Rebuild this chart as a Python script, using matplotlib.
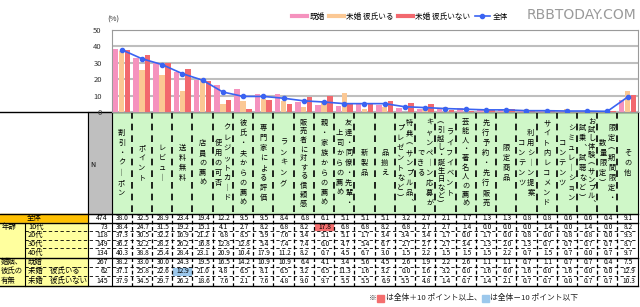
import matplotlib

matplotlib.use("Agg")

import matplotlib.pyplot as plt
import numpy as np
from matplotlib.lines import Line2D
from matplotlib.patches import Rectangle

plt.rcParams["font.family"] = ["Noto Sans CJK JP", "DejaVu Sans"]

# ---- data -------------------------------------------------------------
# each header: text columns separated by "\n", rightmost column first
categories = [
    "割引・クーポン", "ポイント", "レビュー", "送料無料", "店員の薦め",
    "クレジットカード\n使用の可否", "彼氏・夫からの薦め", "専門家による評価",
    "ランキング", "販売者に対する信頼感", "親・家族からの薦め",
    "友達・同僚・先輩・\n上司からの薦め", "新製品", "品揃え",
    "特典（サンプル品、\nプレゼントなど）", "キャンペーン応募が\nできる",
    "ライフイベント\n（引越し・誕生日など）", "芸能人・著名人の薦め",
    "先行予約・先行販売", "限定商品", "利用シーン提案\nコンテンツ",
    "サイト内レコメンド", "シミュレーション\nコンテンツ",
    "お試し体験（サンプル、\n試乗、試聴など）", "限定（期間限定・\n数量限定）", "その他",
]

overall = [38.0, 32.5, 28.9, 23.4, 19.4, 12.2, 9.5, 9.5, 8.4, 6.8, 6.1, 5.1, 5.1,
           5.1, 3.2, 2.7, 2.1, 1.7, 1.3, 1.3, 0.8, 0.8, 0.6, 0.6, 0.4, 9.1]
teens = [38.4, 24.7, 31.5, 19.2, 15.1, 4.1, 2.7, 8.2, 6.8, 8.2, 17.8, 6.8, 6.8,
         8.2, 6.8, 2.7, 2.7, 1.4, 0.0, 0.0, 0.0, 1.4, 0.0, 1.4, 0.0, 8.2]
twenties = [37.3, 30.5, 32.2, 16.9, 21.2, 6.8, 8.5, 5.9, 7.6, 3.4, 5.1, 5.1, 1.7,
            3.4, 3.4, 3.4, 1.7, 0.0, 1.7, 0.0, 0.8, 0.0, 0.8, 0.8, 0.0, 9.3]
thirties = [36.2, 32.2, 28.2, 26.2, 16.8, 12.8, 12.8, 5.4, 7.4, 7.4, 6.0, 4.7, 5.4,
            6.7, 2.7, 2.7, 2.7, 3.4, 1.3, 2.0, 1.3, 0.7, 0.7, 0.7, 0.7, 8.7]
forties = [40.3, 38.8, 25.4, 28.4, 23.1, 20.9, 10.4, 17.9, 11.2, 8.2, 0.7, 4.5, 6.7,
           3.0, 1.5, 2.2, 1.5, 1.5, 1.5, 2.2, 0.7, 1.5, 0.7, 0.0, 0.7, 9.7]
married = [38.2, 33.0, 30.0, 24.3, 19.5, 16.5, 14.2, 10.9, 10.9, 6.4, 4.1, 3.4, 5.6,
           4.5, 2.6, 1.9, 2.2, 2.6, 1.1, 1.1, 0.7, 1.1, 0.7, 0.7, 0.4, 7.5]
single_bf = [37.1, 25.8, 22.6, 12.9, 21.0, 4.8, 6.5, 8.1, 6.5, 3.2, 6.5, 11.3, 1.6,
             3.2, 0.0, 1.6, 3.2, 0.0, 1.6, 0.0, 1.6, 0.0, 1.6, 0.0, 0.0, 12.9]
single_nobf = [37.9, 34.5, 29.7, 26.2, 18.6, 7.6, 2.1, 7.6, 4.8, 9.0, 9.7, 5.5, 5.5,
               6.9, 5.5, 4.8, 1.4, 0.7, 1.4, 2.1, 0.7, 0.7, 0.0, 0.7, 0.7, 10.3]

n_total = 474
row_labels = ["10代", "20代", "30代", "40代", "既婚", "未婚　彼氏いる", "未婚　彼氏いない"]
row_n = [73, 118, 149, 134, 267, 62, 145]
row_values = [teens, twenties, thirties, forties, married, single_bf, single_nobf]

series_labels = ["既婚", "未婚 彼氏いる", "未婚 彼氏いない", "全体"]

# ---- styling ----------------------------------------------------------
PINK, PEACH, RED, BLUE = "#F592BE", "#FBC894", "#F2686E", "#3A63F2"
GREEN, YELLOW, GOLD, GRAY = "#CFF7C8", "#FFFF9E", "#FFC000", "#BFBFBF"
HI_RED, HI_BLUE = "#F46E6E", "#9CC8EC"
VERTICAL = {"ー": "｜", "（": "︵", "）": "︶", "、": "︑"}

W, H = 640, 307
left, right = 111.5, 637.7
top, base = 30, 112
ncol = len(categories)
cw = (right - left) / ncol

fig = plt.figure(figsize=(W / 100, H / 100), dpi=100)
fig.patch.set_facecolor("white")

# pixel canvas for the table
tb = fig.add_axes([0, 0, 1, 1])
tb.set_xlim(0, W)
tb.set_ylim(H, 0)
tb.axis("off")

# ---- chart -------------------------------------------------------------
ax = fig.add_axes([left / W, 1 - base / H, (right - left) / W, (base - top) / H])
x = np.arange(ncol)
bw = 0.27
ax.bar(x - 0.29, married, bw, color=PINK, zorder=3)
ax.bar(x, single_bf, bw, color=PEACH, zorder=3)
ax.bar(x + 0.29, single_nobf, bw, color=RED, zorder=3)
ax.plot(x, overall, color=BLUE, lw=1.2, marker="o", ms=3, zorder=4)
ax.set_xlim(-0.5, ncol - 0.5)
ax.set_ylim(0, 50)
ax.set_yticks(range(0, 51, 10))
ax.set_xticks([])
ax.grid(axis="y", color="#BEBEBE", lw=1.5, zorder=0)
ax.tick_params(axis="y", length=0, pad=7, labelsize=5.5, labelcolor="#333333")
for s in ax.spines.values():
    s.set_color("#9A9A9A")
    s.set_linewidth(0.8)
ax.text(-0.008, 1.13, "(%)", transform=ax.transAxes, fontsize=5.5, color="#333333",
        ha="left", va="center")

handles = [Line2D([], [], color=PINK, lw=3), Line2D([], [], color=PEACH, lw=3),
           Line2D([], [], color=RED, lw=3),
           Line2D([], [], color=BLUE, lw=1.2, marker="o", ms=3)]
fig.legend(handles, series_labels, loc="center left", bbox_to_anchor=(292 / W, 1 - 17 / H),
           ncol=4, frameon=False, fontsize=5.5, handlelength=1.9, columnspacing=0.6,
           handletextpad=0.35, borderaxespad=0, borderpad=0)

tb.text(636, 15, "RBBTODAY.COM", fontsize=10, color="#9A9A9A", ha="right", va="center",
        family="DejaVu Sans", zorder=10)

# ---- table -------------------------------------------------------------
head_bot = 213.5
row_edges = [213.5, 222.5, 231, 239.5, 248, 257.5, 266.5, 276, 285.5]

tb.add_patch(Rectangle((left, base), right - left, head_bot - base, color=GREEN, zorder=1))
tb.add_patch(Rectangle((88, base), left - 88, head_bot - base, color=GRAY, zorder=1))
tb.text(90, 165, "N", fontsize=5, va="center", ha="left", zorder=3)

# vertical header text
for i, label in enumerate(categories):
    cx = left + (i + 0.5) * cw
    cols = label.split("\n")
    offs = [0] if len(cols) == 1 else [4.5, -4.5]
    for off, col in zip(offs, cols):
        n = len(col)
        sp = min(10.0, 82.0 / max(n - 1, 1))
        y0 = 163 - (n - 1) / 2 * sp
        for k, ch in enumerate(col):
            tb.text(cx + off, y0 + k * sp, VERTICAL.get(ch, ch), fontsize=5.2,
                    ha="center", va="center", zorder=3)

# label backgrounds
tb.add_patch(Rectangle((0, row_edges[0]), 88, row_edges[1] - row_edges[0], color=GOLD, zorder=1))
tb.add_patch(Rectangle((0, row_edges[1]), 88, row_edges[-1] - row_edges[1], color=YELLOW, zorder=1))

tb.text(27, (row_edges[0] + row_edges[1]) / 2, "全体", fontsize=5.3, va="center", zorder=3)
tb.text(108, (row_edges[0] + row_edges[1]) / 2, str(n_total), fontsize=5, va="center",
        ha="right", zorder=3)
tb.text(2, row_edges[1] + 4, "年齢", fontsize=5.3, va="center", zorder=3)
for k, part in enumerate(["婚姻、", "彼氏の", "有無"]):
    tb.text(1, (row_edges[5 + k] + row_edges[6 + k]) / 2, part, fontsize=5.3,
            va="center", zorder=3)

for i, v in enumerate(overall):
    cx = left + (i + 0.5) * cw
    tb.text(cx + 1, (row_edges[0] + row_edges[1]) / 2, f"{v:.1f}", fontsize=4.8,
            ha="center", va="center", zorder=3)

for r, (lab, n, vals) in enumerate(zip(row_labels, row_n, row_values)):
    y0, y1 = row_edges[r + 1], row_edges[r + 2]
    ym = (y0 + y1) / 2
    tb.text(28, ym, lab, fontsize=5.3, va="center", zorder=3)
    tb.text(108, ym, str(n), fontsize=5, va="center", ha="right", zorder=3)
    for i, v in enumerate(vals):
        cx = left + (i + 0.5) * cw
        diff = v - overall[i]
        if diff >= 10 or diff <= -10:
            tb.add_patch(Rectangle((left + i * cw + 1, y0 + 1), cw - 2, y1 - y0 - 2,
                                   color=HI_RED if diff > 0 else HI_BLUE, zorder=2))
        tb.text(cx + 1, ym, f"{v:.1f}", fontsize=4.8, ha="center", va="center", zorder=3)

# grid lines
for i in range(1, ncol):
    xv = left + i * cw
    tb.plot([xv, xv], [base, head_bot], color="black", lw=1.2, ls=(0, (4, 3)), zorder=2)
    tb.plot([xv, xv], [head_bot, row_edges[-1]], color="black", lw=0.9, ls=(0, (3, 2)), zorder=2)
for yv in row_edges[2:-1]:
    if yv == row_edges[5]:
        continue
    tb.plot([25, right], [yv, yv], color="black", lw=0.6, ls=(0, (4, 3)), zorder=2)
for yv in [base, head_bot, row_edges[1], row_edges[5], row_edges[-1]]:
    tb.plot([0, right], [yv, yv], color="black", lw=1.0, zorder=2)
for xv in [88, left]:
    tb.plot([xv, xv], [base, row_edges[-1]], color="black", lw=0.8, zorder=2)
tb.plot([25, 25], [row_edges[1], row_edges[-1]], color="black", lw=0.8, zorder=2)
tb.plot([right, right], [base, row_edges[-1]], color="black", lw=0.8, zorder=2)

# ---- footnote ------------------------------------------------------------
fig.canvas.draw()
renderer = fig.canvas.get_renderer()
inv = tb.transData.inverted()
fx, fy = 369, 298
parts = [("※", None), ("", HI_RED), ("は全体＋10 ポイント以上、", None), ("", HI_BLUE),
         ("は全体－10 ポイント以下", None)]
for txt, sq in parts:
    if sq:
        tb.add_patch(Rectangle((fx + 0.5, fy - 3.5), 7, 7, color=sq, zorder=3))
        fx += 9
    else:
        t = tb.text(fx, fy, txt, fontsize=5.6, va="center", ha="left", color="#222222", zorder=3)
        bb = t.get_window_extent(renderer)
        fx = inv.transform((bb.x1, bb.y0))[0]

fig.savefig("out.png", dpi=100)
